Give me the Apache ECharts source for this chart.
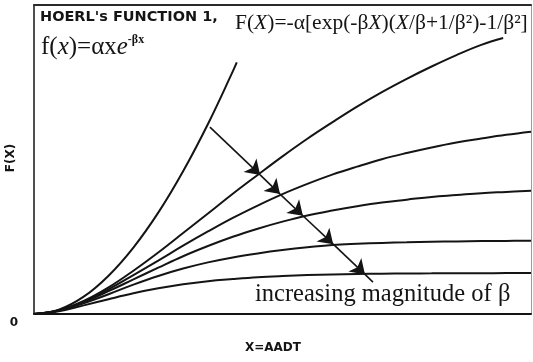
<!DOCTYPE html>
<html>
<head>
<meta charset="utf-8">
<script src="https://cdn.jsdelivr.net/npm/echarts@6/dist/echarts.min.js"></script>
<style>
  html, body { margin: 0; padding: 0; background: #ffffff; }
  #chart { width: 533px; height: 362px; }
</style>
</head>
<body>
<div id="chart"></div>
<script>
// Cumulative Hoerl function F(X) for a family of beta values (arbitrary units, 0..100 on both axes)
const xGrid   = [0, 5, 10, 15, 20, 25, 30, 35, 40, 45, 50, 55, 60, 65, 70, 75, 80, 85, 90, 95, 100];

// smallest beta: steep, nearly quadratic curve that leaves the frame early
const beta1X  = [0, 5, 10, 15, 20, 25, 30, 35, 40, 40.8];
const beta1Y  = [0, 1.4, 5.6, 12.4, 21.5, 32.8, 46.2, 61.5, 78.5, 81.4];

const beta2X  = [0, 5, 10, 15, 20, 25, 30, 35, 40, 45, 50, 55, 60, 65, 70, 75, 80, 85, 90, 94.4];
const beta2Y  = [0, 1.2, 4.2, 8.6, 14.0, 19.9, 26.2, 32.5, 38.9, 45.0, 51.0, 56.7, 62.0, 67.1, 71.8, 76.1, 80.1, 83.8, 87.1, 89.3];

const beta3Y  = [0, 1.15, 4.0, 8.0, 12.6, 17.3, 22.1, 26.7, 31.1, 35.1, 38.8, 42.1, 45.1, 47.7, 50.1, 52.1, 53.9, 55.5, 56.8, 58.0, 59.0];
const beta4Y  = [0, 1.1, 3.8, 7.4, 11.2, 15.0, 18.7, 22.0, 25.0, 27.6, 29.9, 31.9, 33.5, 34.9, 36.1, 37.0, 37.9, 38.5, 39.1, 39.5, 39.9];
const beta5Y  = [0, 1.05, 3.5, 6.4, 9.5, 12.3, 14.7, 16.7, 18.3, 19.6, 20.7, 21.6, 22.3, 22.7, 23.0, 23.2, 23.4, 23.5, 23.6, 23.65, 23.7];
const beta6Y  = [0, 0.9, 2.8, 4.8, 6.7, 8.3, 9.6, 10.6, 11.3, 11.9, 12.3, 12.6, 12.8, 12.95, 13.05, 13.1, 13.15, 13.2, 13.2, 13.25, 13.25];

// "increasing beta" arrow: start on the first curve, heads where it crosses curves 2..6, then a short tail
const arrowX  = [35.4, 45.5, 49.5, 54.1, 60.2, 66.6, 68.2];
const arrowY  = [60.5, 45.0, 38.8, 31.8, 22.6, 12.8, 10.3];

const INK = '#141414';
const SERIF = '"Liberation Serif", "Times New Roman", serif';

function pairs(xs, ys) {
  return xs.map((x, i) => [x, ys[i]]);
}

function curve(name, xs, ys) {
  return {
    name: name,
    type: 'line',
    data: pairs(xs, ys),
    smooth: 0.4,
    showSymbol: false,
    silent: true,
    lineStyle: { color: INK, width: 2 },
    z: 3
  };
}

const arrowSegments = [];
for (let i = 0; i < arrowX.length - 1; i++) {
  arrowSegments.push({
    coords: [[arrowX[i], arrowY[i]], [arrowX[i + 1], arrowY[i + 1]]],
    symbol: ['none', i < arrowX.length - 2 ? 'arrow' : 'none']
  });
}

const chart = echarts.init(document.getElementById('chart'), null, { renderer: 'canvas' });

const hiddenAxisParts = {
  axisTick: { show: false },
  axisLabel: { show: false },
  splitLine: { show: false }
};

chart.setOption({
  animation: false,
  backgroundColor: '#ffffff',
  grid: { left: 34, right: 2, top: 5, bottom: 48, containLabel: false },
  xAxis: [
    Object.assign({
      type: 'value', min: 0, max: 100, position: 'bottom',
      axisLine: { show: true, onZero: false, lineStyle: { color: INK, width: 2 } }
    }, hiddenAxisParts),
    Object.assign({
      type: 'value', min: 0, max: 100, position: 'top',
      axisLine: { show: true, onZero: false, lineStyle: { color: '#2a2a2a', width: 2 } }
    }, hiddenAxisParts)
  ],
  yAxis: [
    Object.assign({
      type: 'value', min: 0, max: 100, position: 'left',
      axisLine: { show: true, onZero: false, lineStyle: { color: INK, width: 1.5 } }
    }, hiddenAxisParts),
    Object.assign({
      type: 'value', min: 0, max: 100, position: 'right',
      axisLine: { show: true, onZero: false, lineStyle: { color: '#9a9a9a', width: 1 } }
    }, hiddenAxisParts)
  ],
  series: [
    curve('beta1', beta1X, beta1Y),
    curve('beta2', beta2X, beta2Y),
    curve('beta3', xGrid, beta3Y),
    curve('beta4', xGrid, beta4Y),
    curve('beta5', xGrid, beta5Y),
    curve('beta6', xGrid, beta6Y),
    {
      name: 'increasing beta',
      type: 'lines',
      coordinateSystem: 'cartesian2d',
      silent: true,
      symbolSize: 14,
      lineStyle: { color: INK, width: 1.6, opacity: 1, curveness: 0 },
      data: arrowSegments,
      z: 4
    }
  ],
  graphic: [
    {
      type: 'text', x: 40, y: 10,
      style: {
        text: "HOERL's FUNCTION 1,",
        fill: INK, font: 'bold 14.5px "DejaVu Sans", sans-serif',
        align: 'left', verticalAlign: 'top'
      }
    },
    {
      type: 'text', x: 41, y: 47,
      style: {
        text: '{n|f(}{i|x}{n|)=αx}{i|e}{s|-βx}',
        rich: {
          n: { fill: INK, fontFamily: SERIF, fontSize: 25, lineHeight: 26 },
          i: { fill: INK, fontFamily: SERIF, fontSize: 25, lineHeight: 26, fontStyle: 'italic' },
          s: { fill: INK, fontFamily: SERIF, fontSize: 12, fontWeight: 'bold', verticalAlign: 'top', lineHeight: 14 }
        },
        align: 'left', verticalAlign: 'middle'
      }
    },
    {
      type: 'text', x: 235, y: 23,
      style: {
        text: '{n|F(}{i|X}{n|)=-α[exp(-β}{i|X}{n|)(}{i|X}{n|/β+1/β²)-1/β²]}',
        rich: {
          n: { fill: INK, fontFamily: SERIF, fontSize: 21.5 },
          i: { fill: INK, fontFamily: SERIF, fontSize: 21.5, fontStyle: 'italic' }
        },
        align: 'left', verticalAlign: 'middle'
      }
    },
    {
      type: 'text', x: 255, y: 295,
      style: {
        text: 'increasing magnitude of β',
        fill: INK, font: '24.5px ' + SERIF,
        align: 'left', verticalAlign: 'middle'
      }
    },
    {
      type: 'text', x: 11, y: 158, rotation: Math.PI / 2,
      style: {
        text: 'F(X)',
        fill: INK, font: 'bold 12px "DejaVu Sans", sans-serif',
        align: 'center', verticalAlign: 'middle'
      }
    },
    {
      type: 'text', x: 14, y: 323,
      style: {
        text: '0',
        fill: INK, font: 'bold 12px "DejaVu Sans", sans-serif',
        align: 'center', verticalAlign: 'middle'
      }
    },
    {
      type: 'text', x: 273, y: 348,
      style: {
        text: 'X=AADT',
        fill: INK, font: 'bold 12px "DejaVu Sans", sans-serif',
        align: 'center', verticalAlign: 'middle'
      }
    }
  ]
});
</script>
</body>
</html>
